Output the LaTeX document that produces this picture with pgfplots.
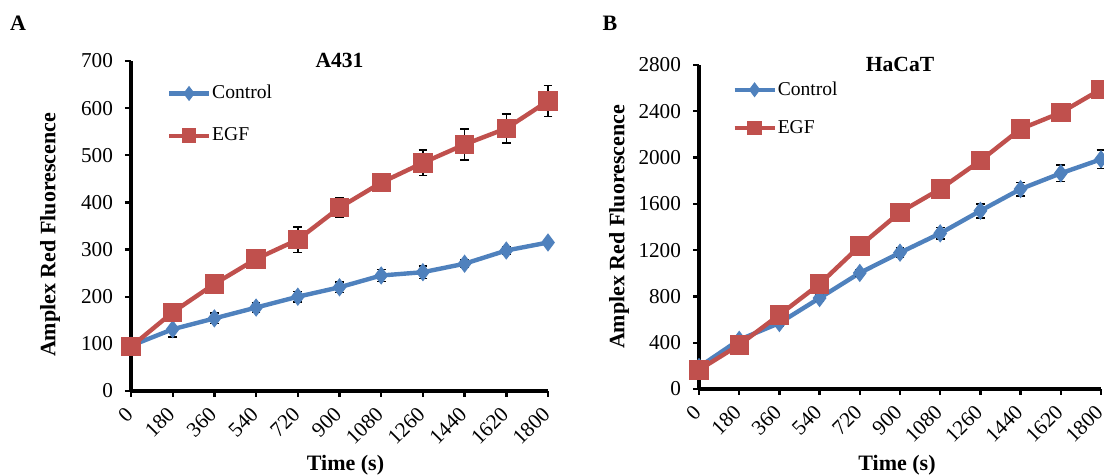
\documentclass[border=0pt]{standalone}
\usepackage{fontspec}
\setmainfont{Liberation Serif}
\usepackage{pgfplots}
\pgfplotsset{compat=1.18}
\definecolor{ctrlblue}{HTML}{4F81BD}
\definecolor{egfred}{HTML}{C0504D}

\pgfplotsset{
  panel/.style={
    scale only axis,
    anchor=south west,
    clip=false,
    axis x line=bottom, axis y line=left,
    axis line style={-, line width=1.8pt, black},
    tick align=outside,
    major tick length=3pt,
    tick style={line width=1.2pt, black},
    xmin=0, xmax=1800, ymin=0,
    xtick={0,180,...,1800},
    /pgf/number format/assume math mode=true,
    /pgf/number format/1000 sep={},
    tick label style={font=\fontsize{10.6}{12}\selectfont},
    xticklabel style={rotate=45, anchor=east, inner sep=1pt},
    xticklabel shift=6pt,
    yticklabel style={xshift=-2.5pt},
    label style={font=\fontsize{11}{13}\selectfont\bfseries},
    title style={font=\fontsize{10.8}{13}\selectfont\bfseries, at={(0.5,1)}, anchor=center, yshift=-5.5pt},
    xlabel={Time (s)},
    ylabel={Amplex Red Fluorescence},
    legend style={draw=none, fill=none, inner sep=0pt, anchor=west,
      font=\fontsize{9.8}{11}\selectfont, row sep=9pt,
      nodes={inner xsep=0.5pt},
      /tikz/every odd column/.append style={column sep=0pt}},
    legend cell align=left,
    legend image code/.code={\draw[##1, mark size=3.4pt, mark repeat=2, mark phase=2] plot coordinates {(0pt,0pt) (10pt,0pt) (20pt,0pt)};},
    error bars/y dir=both, error bars/y explicit,
    error bars/error bar style={line width=0.8pt, black},
    error bars/error mark options={rotate=90, line width=0.8pt, mark size=2.2pt, black},
  },
  ctrl/.style={color=ctrlblue, line width=2.2pt, mark=diamond*, mark size=4.2pt,
    mark options={solid, fill=ctrlblue, draw=ctrlblue, line width=0.5pt}},
  egf/.style={color=egfred, line width=2.2pt, mark=square*, mark size=4.6pt,
    mark options={solid, fill=egfred, draw=egfred, line width=0.5pt}},
}

\begin{document}
\begin{tikzpicture}
\useasboundingbox (0,0) rectangle (552pt,237.5pt);
\clip (0,0) rectangle (552pt,237.5pt);

\node[font=\fontsize{11}{13}\selectfont\bfseries] at (9pt,226pt) {A};
\node[font=\fontsize{11}{13}\selectfont\bfseries] at (305pt,226pt) {B};

% A431
\begin{axis}[panel,
  at={(65.5pt,42pt)}, width=208.5pt, height=165pt,
  ymax=700, ytick={0,100,...,700},
  title={A431},
  xlabel style={at={([xshift=3pt,yshift=-37pt]axis description cs:0.5,0)}, anchor=center},
  ylabel style={at={([xshift=-40.5pt]axis description cs:0,0.473)}, anchor=center},
  legend style={at={(0.085,0.838)}},
]
\addplot[ctrl] coordinates {
  (0,96) +- (0,3)
  (180,131) +- (0,17)
  (360,154) +- (0,11)
  (540,177) +- (0,10)
  (720,200) +- (0,11)
  (900,220) +- (0,11)
  (1080,245) +- (0,13)
  (1260,252) +- (0,13)
  (1440,270) +- (0,8)
  (1620,298) +- (0,8)
  (1800,315) +- (0,6)
};
\addplot[egf] coordinates {
  (0,94) +- (0,3)
  (180,167) +- (0,8)
  (360,227) +- (0,5)
  (540,280) +- (0,5)
  (720,321) +- (0,27)
  (900,389) +- (0,21)
  (1080,442) +- (0,5)
  (1260,484) +- (0,27)
  (1440,523) +- (0,33)
  (1620,557) +- (0,31)
  (1800,615) +- (0,33)
};
\legend{Control, EGF}
\end{axis}

% HaCaT
\begin{axis}[panel,
  at={(349.5pt,43pt)}, width=201pt, height=162pt,
  ymax=2800, ytick={0,400,...,2800},
  title={HaCaT},
  xlabel style={at={([xshift=-1.5pt,yshift=-38pt]axis description cs:0.5,0)}, anchor=center},
  ylabel style={at={([xshift=-40pt]axis description cs:0,0.5)}, anchor=center},
  legend style={at={(0.082,0.865)}, row sep=7pt},
]
\addplot[ctrl] coordinates {
  (0,190) +- (0,20)
  (180,425) +- (0,20)
  (360,570) +- (0,25)
  (540,786) +- (0,30)
  (720,1003) +- (0,30)
  (900,1178) +- (0,40)
  (1080,1345) +- (0,50)
  (1260,1540) +- (0,60)
  (1440,1728) +- (0,58)
  (1620,1864) +- (0,72)
  (1800,1985) +- (0,80)
};
\addplot[egf] coordinates {
  (0,165) +- (0,15)
  (180,381) +- (0,20)
  (360,641) +- (0,20)
  (540,907) +- (0,25)
  (720,1236) +- (0,25)
  (900,1527) +- (0,25)
  (1080,1728) +- (0,25)
  (1260,1973) +- (0,25)
  (1440,2247) +- (0,25)
  (1620,2388) +- (0,25)
  (1800,2590) +- (0,25)
};
\legend{Control, EGF}
\end{axis}
\end{tikzpicture}
\end{document}
